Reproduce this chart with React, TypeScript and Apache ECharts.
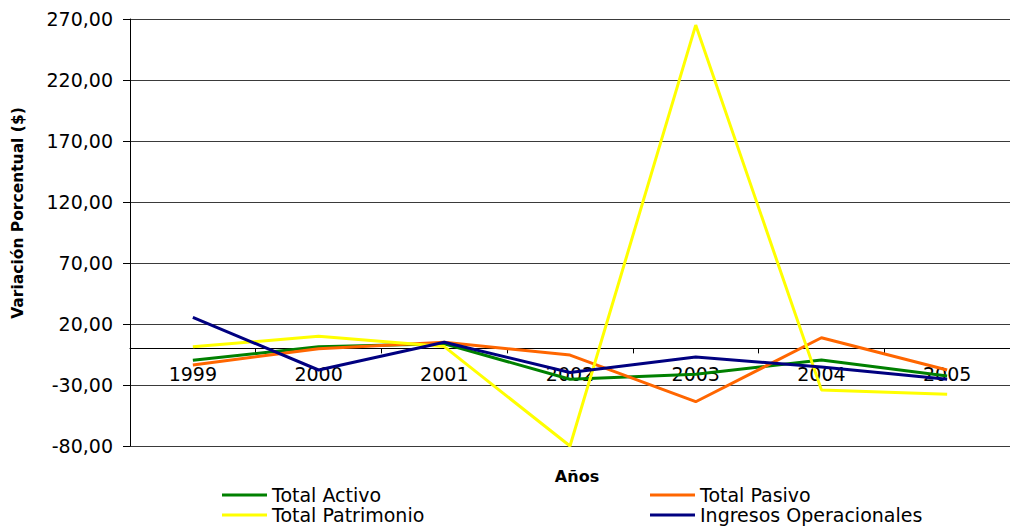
import React, { useEffect, useRef } from "react";
import * as echarts from "echarts";

const years = ["1999", "2000", "2001", "2002", "2003", "2004", "2005"];
const totalActivo = [-9.8, 1.3, 3.8, -25.3, -21.2, -9.5, -22.6];
const totalPasivo = [-13.6, -0.3, 5.1, -5.5, -43.7, 8.7, -17.7];
const totalPatrimonio = [1.3, 10, 1.5, -80, 265, -34, -37.5];
const ingresosOperacionales = [25.5, -17.7, 5.1, -19.8, -7.1, -15.2, -25.3];
const yTicks = [-80, -30, 20, 70, 120, 170, 220, 270];

const FONT = "'DejaVu Sans', Verdana, sans-serif";
const GRID_TOP = 19;
const GRID_HEIGHT = 427;

export default function App() {
  const ref = useRef<HTMLDivElement>(null);
  useEffect(() => {
    document.body.style.margin = "0";
    const chart = echarts.init(ref.current!, null, { renderer: "svg" });
    const mk = (name: string, data: number[], color: string) => ({
      name,
      type: "line",
      data,
      symbol: "none",
      lineStyle: { color, width: 3 },
      itemStyle: { color },
      z: 3,
    });
    const legendText = { fontFamily: FONT, fontSize: 19, color: "#000", lineHeight: 20 };
    chart.setOption({
      animation: false,
      backgroundColor: "#ffffff",
      grid: { left: 130, top: GRID_TOP, width: 889, height: GRID_HEIGHT },
      xAxis: {
        type: "category",
        data: years,
        boundaryGap: true,
        position: "bottom",
        offset: 0,
        axisLine: { onZero: false, lineStyle: { color: "#000", width: 1 } },
        axisTick: { show: true, length: 5, lineStyle: { color: "#000" } },
        axisLabel: { color: "#000", fontFamily: FONT, fontSize: 19, margin: 16 },
        splitLine: { show: false },
      },
      yAxis: {
        type: "value",
        min: -80,
        max: 270,
        axisLine: { show: true, lineStyle: { color: "#000", width: 1 } },
        axisTick: { show: true, length: 7, customValues: yTicks, lineStyle: { color: "#000" } },
        axisLabel: {
          customValues: yTicks,
          color: "#000",
          fontFamily: FONT,
          fontSize: 19,
          margin: 17,
          formatter: (v: number) => v.toFixed(2).replace(".", ","),
        },
        splitLine: { show: true, lineStyle: { color: "#3a3a3a", width: 1 } },
      },
      legend: [
        {
          data: ["Total Activo", "Total Patrimonio"],
          orient: "vertical",
          left: 222,
          top: 485,
          itemGap: 0,
          itemWidth: 45,
          itemHeight: 3,
          icon: "rect",
          padding: 0,
          textStyle: legendText,
        },
        {
          data: ["Total Pasivo", "Ingresos Operacionales"],
          orient: "vertical",
          left: 650,
          top: 485,
          itemGap: 0,
          itemWidth: 45,
          itemHeight: 3,
          icon: "rect",
          padding: 0,
          textStyle: legendText,
        },
      ],
      graphic: [
        {
          type: "text",
          x: 18,
          y: 213,
          rotation: Math.PI / 2,
          style: {
            text: "Variación Porcentual ($)",
            fontFamily: FONT,
            fontSize: 15.5,
            fontWeight: "bold",
            fill: "#000",
            align: "center",
            verticalAlign: "middle",
          },
        },
        {
          type: "text",
          x: 577,
          y: 476,
          style: {
            text: "Años",
            fontFamily: FONT,
            fontSize: 16,
            fontWeight: "bold",
            fill: "#000",
            align: "center",
            verticalAlign: "middle",
          },
        },
      ],
      series: [
        mk("Total Activo", totalActivo, "#008000"),
        mk("Total Pasivo", totalPasivo, "#ff6600"),
        mk("Total Patrimonio", totalPatrimonio, "#ffff00"),
        mk("Ingresos Operacionales", ingresosOperacionales, "#000080"),
      ],
    });
    // Move the category axis up so that it crosses the value axis at zero.
    const y0 = chart.convertToPixel({ yAxisIndex: 0 }, 0) as number;
    const bottom = GRID_TOP + GRID_HEIGHT;
    chart.setOption({ xAxis: { offset: y0 - bottom } });
    return () => chart.dispose();
  }, []);
  return <div ref={ref} style={{ width: 1010, height: 527 }} />;
}
